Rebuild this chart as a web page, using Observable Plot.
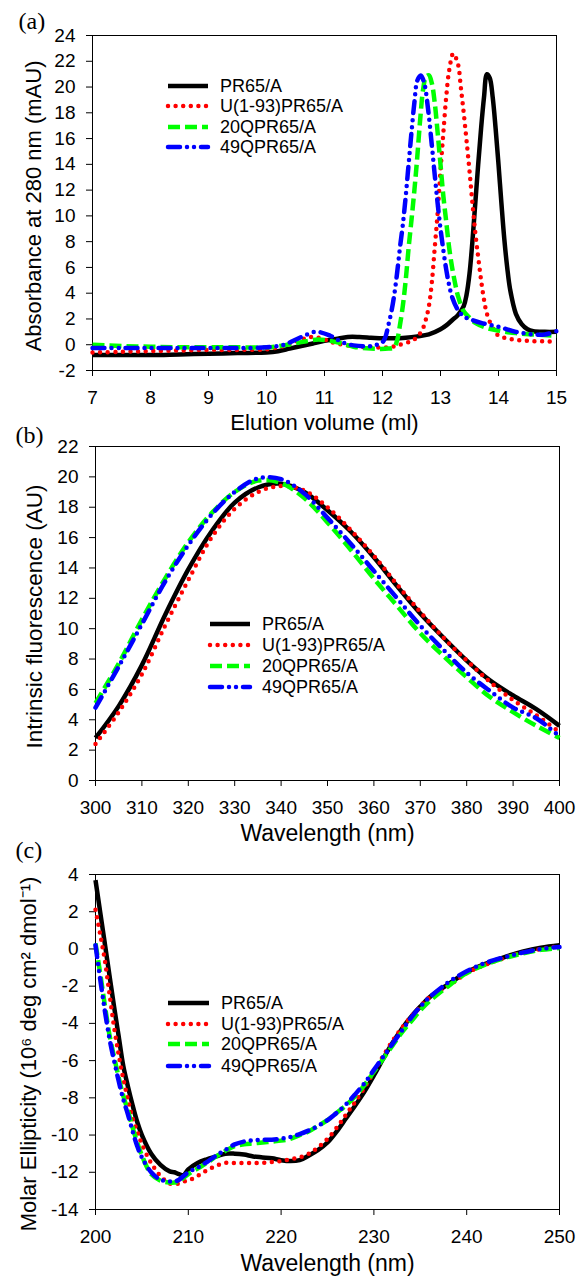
<!DOCTYPE html>
<html>
<head>
<meta charset="utf-8">
<script src="https://cdn.jsdelivr.net/npm/d3@7"></script>
<script src="https://cdn.jsdelivr.net/npm/@observablehq/plot@0.6"></script>
<style>
  body { margin: 0; background: #fff; }
  #root { position: relative; width: 578px; height: 1276px; overflow: hidden; background: #fff; }
  .panel { position: absolute; left: 0; }
</style>
</head>
<body>
<div id="root"></div>
<script>
// ---------- series names ----------
const seriesNames = ["PR65/A", "U(1-93)PR65/A", "20QPR65/A", "49QPR65/A"];

// ---------- panel (a): elution profiles ----------
const volPR65 = [7,7.5,8,8.5,9,9.5,10,10.2,10.4,10.6,10.8,11,11.2,11.4,11.6,11.8,12,12.2,12.4,12.6,12.8,13,13.1,13.2,13.3,13.4,13.45,13.5,13.55,13.6,13.65,13.7,13.75,13.8,13.85,13.9,13.95,14,14.05,14.1,14.15,14.2,14.3,14.4,14.5,14.6,14.8,15];
const absPR65 = [-0.8,-0.8,-0.8,-0.75,-0.7,-0.65,-0.6,-0.5,-0.3,-0.1,0.1,0.3,0.45,0.6,0.6,0.55,0.5,0.5,0.55,0.65,0.8,1.2,1.5,1.9,2.3,3.0,3.9,5.5,8.0,11.0,14.0,16.8,19.2,21.0,20.7,19.2,16.8,14.0,11.0,8.2,6.0,4.3,2.4,1.6,1.2,1.05,1.0,1.0];

const volU = [7,7.5,8,8.5,9,9.5,10,10.3,10.6,10.8,11,11.2,11.5,11.8,12.1,12.3,12.5,12.6,12.7,12.75,12.8,12.85,12.9,12.95,13,13.05,13.1,13.15,13.22,13.3,13.35,13.4,13.45,13.5,13.55,13.6,13.65,13.7,13.75,13.8,13.9,14,14.2,14.5,15];
const absU = [-0.6,-0.55,-0.5,-0.45,-0.4,-0.4,-0.35,-0.1,0.4,0.6,0.4,0.1,-0.1,-0.2,-0.2,0,0.3,0.6,1.3,2.0,3.0,4.8,7.5,10.2,13.5,16.5,19.3,21.3,22.6,21.8,20.0,18.0,15.8,13.5,11.0,8.7,6.8,5.0,3.5,2.4,1.3,0.7,0.45,0.3,0.25];

const volQ20 = [7,7.5,8,8.5,9,9.5,10,10.3,10.6,10.9,11.2,11.5,11.8,12.1,12.2,12.25,12.3,12.35,12.4,12.45,12.5,12.55,12.6,12.65,12.7,12.75,12.8,12.85,12.9,12.95,13,13.05,13.1,13.15,13.2,13.25,13.3,13.4,13.5,13.6,13.8,14,14.3,14.6,15];
const absQ20 = [0,-0.1,-0.15,-0.2,-0.2,-0.2,-0.2,-0.05,0.2,0.4,0.2,-0.15,-0.3,-0.3,-0.2,0.3,1.5,3.0,5.0,7.5,9.7,12.0,14.6,17.5,19.8,20.8,20.9,20.3,18.8,16.5,14.0,11.5,9.5,7.5,6.0,4.8,3.8,2.6,2.1,1.7,1.3,1.1,0.9,0.8,0.7];

const volQ49 = [7,7.5,8,8.5,9,9.5,10,10.3,10.6,10.85,11.1,11.3,11.5,11.8,12,12.05,12.1,12.15,12.2,12.25,12.3,12.35,12.4,12.45,12.5,12.55,12.6,12.66,12.72,12.78,12.85,12.9,12.95,13,13.05,13.1,13.15,13.2,13.3,13.4,13.5,13.7,14,14.3,14.6,14.8,15];
const absQ49 = [-0.25,-0.25,-0.25,-0.25,-0.25,-0.25,-0.2,0,0.6,1.0,0.7,0.2,-0.05,-0.1,0.2,0.6,1.5,2.5,3.8,5.5,7.5,9.3,11.5,14.0,16.5,18.8,20.5,20.9,20.3,18.5,15.5,13.2,11.0,9.0,7.3,5.8,4.6,3.7,2.7,2.2,2.0,1.7,1.4,1.0,0.8,0.8,1.05];

const ticksA_x = [7,8,9,10,11,12,13,14,15];
const ticksA_y = [-2,0,2,4,6,8,10,12,14,16,18,20,22,24];

// ---------- panel (b): intrinsic fluorescence ----------
const wlFluor = [300,305,310,315,320,325,330,335,340,345,350,355,360,365,370,375,380,385,390,395,400];
const fluorPR65 = [2.8,4.9,7.6,10.9,13.9,16.4,18.3,19.3,19.55,19.0,17.8,16.4,14.7,12.8,11.0,9.4,7.9,6.6,5.6,4.7,3.6];
const fluorU    = [2.4,4.5,7.0,10.2,13.2,16.0,17.9,19.0,19.4,19.1,18.0,16.5,14.8,12.9,11.1,9.4,7.9,6.5,5.3,4.3,3.2];
const fluorQ20  = [5.1,7.7,10.6,13.3,15.7,17.6,19.0,19.75,19.6,18.6,17.0,15.2,13.3,11.5,9.7,8.2,6.8,5.5,4.5,3.6,2.8];
const fluorQ49  = [4.8,7.5,10.3,13.1,15.5,17.5,19.0,19.9,19.85,18.9,17.3,15.6,13.8,12.0,10.2,8.6,7.1,5.9,4.8,4.1,2.9];

const ticksB_x = [300,310,320,330,340,350,360,370,380,390,400];
const ticksB_y = [0,2,4,6,8,10,12,14,16,18,20,22];

// ---------- panel (c): far-UV CD ----------
const wlCD = [200,200.5,201,201.5,202,202.5,203,203.5,204,204.5,205,206,207,208,208.5,209,209.5,210,211,212,213,214,215,216,217,218,219,220,221,222,223,224,225,226,227,228,229,230,231,232,233,234,235,236,238,240,242,244,246,248,250];
const cdPR65 = [3.7,2.0,0.3,-1.4,-3.1,-4.7,-6.3,-7.4,-8.4,-9.3,-10.0,-11.0,-11.6,-11.95,-12.0,-12.1,-12.15,-11.85,-11.5,-11.3,-11.15,-11.0,-11.0,-11.05,-11.15,-11.2,-11.25,-11.35,-11.4,-11.35,-11.1,-10.8,-10.4,-9.8,-9.1,-8.4,-7.65,-6.8,-5.9,-5.05,-4.3,-3.65,-3.1,-2.6,-1.9,-1.25,-0.8,-0.45,-0.15,0.07,0.2];
const cdU    = [2.1,0.8,-0.6,-2.4,-4.2,-5.7,-7.0,-8.1,-9.1,-9.8,-10.5,-11.5,-12.2,-12.6,-12.65,-12.6,-12.5,-12.45,-12.2,-11.9,-11.65,-11.5,-11.5,-11.5,-11.5,-11.5,-11.45,-11.4,-11.3,-11.2,-11.0,-10.65,-10.2,-9.6,-8.9,-8.2,-7.45,-6.6,-5.75,-4.95,-4.25,-3.65,-3.1,-2.6,-2.0,-1.3,-0.85,-0.5,-0.2,0.0,0.15];
const cdQ20  = [0.3,-1.3,-3.0,-4.6,-5.8,-6.9,-7.9,-8.7,-9.6,-10.4,-11.1,-12.1,-12.45,-12.55,-12.55,-12.5,-12.3,-12.1,-11.8,-11.5,-11.15,-10.85,-10.6,-10.5,-10.45,-10.4,-10.35,-10.3,-10.2,-10.0,-9.8,-9.5,-9.2,-8.8,-8.4,-7.9,-7.3,-6.6,-5.9,-5.2,-4.5,-3.9,-3.3,-2.8,-2.0,-1.3,-0.85,-0.5,-0.25,-0.05,0.05];
const cdQ49  = [0.2,-1.6,-3.3,-4.8,-6.0,-7.1,-8.1,-8.9,-9.8,-10.6,-11.2,-12.0,-12.4,-12.5,-12.5,-12.4,-12.2,-12.0,-11.75,-11.45,-11.1,-10.8,-10.5,-10.35,-10.28,-10.25,-10.25,-10.2,-10.1,-9.95,-9.75,-9.5,-9.2,-8.8,-8.35,-7.8,-7.2,-6.5,-5.8,-5.1,-4.4,-3.7,-3.1,-2.6,-1.8,-1.2,-0.75,-0.45,-0.2,0.0,0.1];

const ticksC_x = [200,210,220,230,240,250];
const ticksC_y = [-14,-12,-10,-8,-6,-4,-2,0,2,4];

// ---------- styling ----------
const lineStyles = {
  "PR65/A":        {stroke: "#000000", strokeWidth: 4.5, strokeLinecap: "butt"},
  "U(1-93)PR65/A": {stroke: "#ff0000", strokeWidth: 4.5, strokeDasharray: "0,7.6", strokeLinecap: "round"},
  "20QPR65/A":     {stroke: "#00ff00", strokeWidth: 4.5, strokeDasharray: "12,5", strokeLinecap: "butt"},
  "49QPR65/A":     {stroke: "#0000ff", strokeWidth: 4.5, strokeDasharray: "12,7,0,7,0,7", strokeLinecap: "round"}
};
const sansFont = "'Liberation Sans', Arimo, Arial, Helvetica, sans-serif";
const serifFont = "'Liberation Serif', 'Times New Roman', Times, serif";

function zipRows(xs, ys) { return xs.map((x, i) => ({x, y: ys[i]})); }

function legendMark(rows, x0, x1, tx) {
  return () => {
    const g = d3.create("svg:g");
    seriesNames.forEach((n, i) => {
      const s = lineStyles[n];
      g.append("line")
        .attr("x1", x0).attr("x2", x1).attr("y1", rows[i]).attr("y2", rows[i])
        .attr("stroke", s.stroke).attr("stroke-width", s.strokeWidth)
        .attr("stroke-dasharray", s.strokeDasharray || null)
        .attr("stroke-linecap", s.strokeLinecap);
      g.append("text")
        .attr("x", tx).attr("y", rows[i]).attr("dy", "0.36em")
        .attr("text-anchor", "start")
        .style("text-anchor", "start")
        .attr("font-size", 18).attr("font-family", sansFont).attr("fill", "#000")
        .text(n);
    });
    return g.node();
  };
}

function makePanel(cfg) {
  const marks = [
    Plot.frame({stroke: "#000", strokeWidth: 1}),
    Plot.axisX({ticks: cfg.xTicks, tickSize: 6, tickPadding: 14, tickFormat: d => String(d), label: null, fontSize: 19}),
    Plot.axisY({ticks: cfg.yTicks, tickSize: 6, tickPadding: 11, tickFormat: d => String(d), label: null, fontSize: 19}),
    ...cfg.series.map(s => Plot.line(s.rows, {x: "x", y: "y", curve: "catmull-rom", ...lineStyles[s.name]})),
    Plot.text([cfg.xLabel], {frameAnchor: "bottom", dy: cfg.xLabelDy, fontSize: cfg.xLabelSize, textAnchor: "middle", lineAnchor: "middle"}),
    Plot.text([cfg.yLabel], {frameAnchor: "left", dx: cfg.yLabelDx, dy: cfg.yLabelDy, rotate: -90, fontSize: cfg.yLabelSize, textAnchor: "middle", lineAnchor: "middle"}),
    Plot.text([cfg.tag], {frameAnchor: "top-left", dx: cfg.tagDx, dy: cfg.tagDy, textAnchor: "start", lineAnchor: "bottom", fontSize: 24, fontFamily: serifFont}),
    legendMark(cfg.legendRows, cfg.legendX0, cfg.legendX1, cfg.legendTextX)
  ];
  const svg = Plot.plot({
    width: 578,
    height: cfg.height,
    marginTop: cfg.mt, marginBottom: cfg.mb, marginLeft: cfg.ml, marginRight: cfg.mr,
    x: {domain: cfg.xDomain},
    y: {domain: cfg.yDomain},
    style: {fontFamily: sansFont, fontSize: "19px", color: "#000", background: "none", overflow: "visible"},
    marks
  });
  const div = document.createElement("div");
  div.className = "panel";
  div.style.top = cfg.top + "px";
  div.appendChild(svg);
  document.getElementById("root").appendChild(div);
}

makePanel({
  top: 0, height: 420, mt: 35, mb: 50, ml: 92, mr: 22,
  xDomain: [7, 15], yDomain: [-2, 24], xTicks: ticksA_x, yTicks: ticksA_y,
  series: [
    {name: "PR65/A", rows: zipRows(volPR65, absPR65)},
    {name: "U(1-93)PR65/A", rows: zipRows(volU, absU)},
    {name: "20QPR65/A", rows: zipRows(volQ20, absQ20)},
    {name: "49QPR65/A", rows: zipRows(volQ49, absQ49)}
  ],
  xLabel: "Elution volume (ml)", xLabelDy: 52, xLabelSize: 22,
  yLabel: "Absorbance at 280 nm (mAU)", yLabelDx: -59, yLabelDy: 3, yLabelSize: 22,
  tag: "(a)", tagDx: -74, tagDy: -7,
  legendRows: [86, 106, 127, 147], legendX0: 168, legendX1: 208, legendTextX: 220
});

makePanel({
  top: 420, height: 420, mt: 26, mb: 60, ml: 95, mr: 19,
  xDomain: [300, 400], yDomain: [0, 22], xTicks: ticksB_x, yTicks: ticksB_y,
  series: [
    {name: "PR65/A", rows: zipRows(wlFluor, fluorPR65)},
    {name: "U(1-93)PR65/A", rows: zipRows(wlFluor, fluorU)},
    {name: "20QPR65/A", rows: zipRows(wlFluor, fluorQ20)},
    {name: "49QPR65/A", rows: zipRows(wlFluor, fluorQ49)}
  ],
  xLabel: "Wavelength (nm)", xLabelDy: 53, xLabelSize: 23,
  yLabel: "Intrinsic fluorescence (AU)", yLabelDx: -61, yLabelDy: 3, yLabelSize: 22.5,
  tag: "(b)", tagDx: -80, tagDy: -4,
  legendRows: [204, 225, 246, 267], legendX0: 210, legendX1: 250, legendTextX: 262
});

makePanel({
  top: 840, height: 436, mt: 34, mb: 67, ml: 95, mr: 19,
  xDomain: [200, 250], yDomain: [-14, 4], xTicks: ticksC_x, yTicks: ticksC_y,
  series: [
    {name: "PR65/A", rows: zipRows(wlCD, cdPR65)},
    {name: "U(1-93)PR65/A", rows: zipRows(wlCD, cdU)},
    {name: "20QPR65/A", rows: zipRows(wlCD, cdQ20)},
    {name: "49QPR65/A", rows: zipRows(wlCD, cdQ49)}
  ],
  xLabel: "Wavelength (nm)", xLabelDy: 54, xLabelSize: 23,
  yLabel: "Molar Ellipticity (10⁶ deg cm² dmol⁻¹)", yLabelDx: -67, yLabelDy: 12, yLabelSize: 22,
  tag: "(c)", tagDx: -80, tagDy: -17,
  legendRows: [163, 184, 204, 226], legendX0: 168, legendX1: 209, legendTextX: 221
});
</script>
</body>
</html>
